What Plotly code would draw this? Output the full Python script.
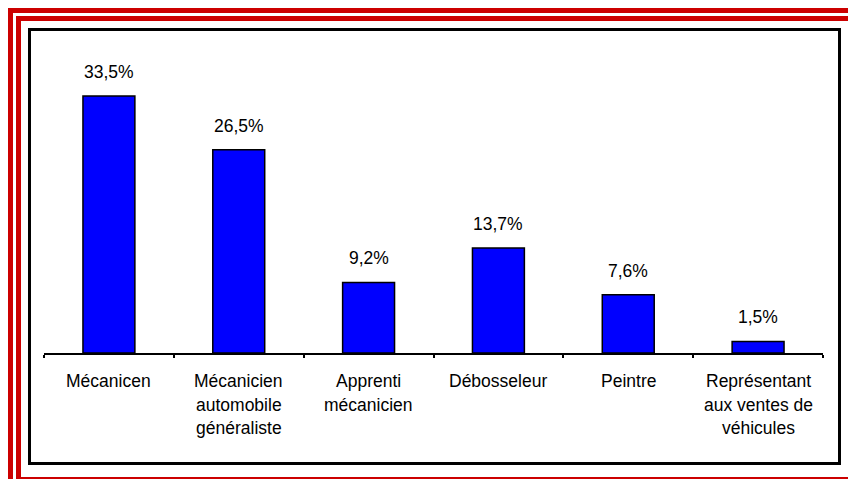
import plotly.graph_objects as go

categories = ["Mécanicen", "Mécanicien automobile généraliste", "Apprenti mécanicien",
              "Débosseleur", "Peintre", "Représentant aux ventes de véhicules"]
label_lines = [["Mécanicen"], ["Mécanicien", "automobile", "généraliste"], ["Apprenti", "mécanicien"],
               ["Débosseleur"], ["Peintre"], ["Représentant", "aux ventes de", "véhicules"]]
values = [33.5, 26.5, 9.2, 13.7, 7.6, 1.5]
value_labels = ["33,5%", "26,5%", "9,2%", "13,7%", "7,6%", "1,5%"]

W, H = 848, 479
L, R, T, B = 44, 25, 40, 126
PW, PH = W - L - R, H - T - B
FONT = "Liberation Sans, Arial, sans-serif"
FS = 17.5

def px(x):
    return (x - L) / PW

def py(y):
    return (H - B - y) / PH

fig = go.Figure()
fig.add_trace(go.Bar(
    x=categories, y=values,
    marker=dict(color="#0000FF", line=dict(color="black", width=1.5)),
    hoverinfo="skip",
))

annotations = []
for c, v, t in zip(categories, values, value_labels):
    annotations.append(dict(x=c, y=v, xref="x", yref="y", text=t, showarrow=False,
                            yanchor="middle", yshift=24,
                            font=dict(family=FONT, size=FS, color="black")))
for c, lines in zip(categories, label_lines):
    for i, ln in enumerate(lines):
        annotations.append(dict(x=c, xref="x", y=py(381 + 23.5 * i), yref="paper", text=ln,
                                showarrow=False, yanchor="middle",
                                font=dict(family=FONT, size=FS, color="black")))

red = "#CC0000"
shapes = [
    dict(type="rect", xref="paper", yref="paper", x0=px(8), x1=px(848), y0=py(8), y1=py(13),
         fillcolor=red, line=dict(width=0)),
    dict(type="rect", xref="paper", yref="paper", x0=px(16), x1=px(848), y0=py(16), y1=py(21),
         fillcolor=red, line=dict(width=0)),
    dict(type="rect", xref="paper", yref="paper", x0=px(8), x1=px(13), y0=py(8), y1=py(479),
         fillcolor=red, line=dict(width=0)),
    dict(type="rect", xref="paper", yref="paper", x0=px(16), x1=px(21), y0=py(16), y1=py(479),
         fillcolor=red, line=dict(width=0)),
    dict(type="rect", xref="paper", yref="paper", x0=px(21), x1=px(848), y0=py(477), y1=py(479),
         fillcolor=red, line=dict(width=0)),
    dict(type="rect", xref="paper", yref="paper", x0=px(29.5), x1=px(839.5), y0=py(29.5), y1=py(463.5),
         line=dict(color="black", width=3), fillcolor="rgba(0,0,0,0)"),
]

fig.update_layout(
    width=W, height=H,
    margin=dict(l=L, r=R, t=T, b=B, pad=0),
    paper_bgcolor="white", plot_bgcolor="white",
    bargap=0.6, showlegend=False,
    annotations=annotations, shapes=shapes,
    font=dict(family=FONT, size=FS, color="black"),
)
fig.update_xaxes(showticklabels=False, showline=True, linecolor="black", linewidth=2,
                 ticks="outside", tickson="boundaries", ticklen=3, tickcolor="black",
                 tickwidth=1.5, showgrid=False, zeroline=False)
fig.update_yaxes(range=[0, 40.8], visible=False, showgrid=False, zeroline=False)

fig.write_html("out.html", config={"displayModeBar": False},
               post_script="document.body.style.margin='0';document.body.style.overflow='hidden';")
